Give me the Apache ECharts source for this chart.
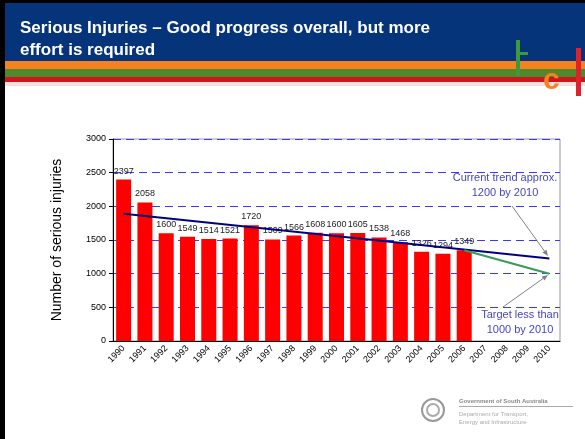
<!DOCTYPE html>
<html>
<head>
<meta charset="utf-8">
<script src="https://cdn.jsdelivr.net/npm/echarts@6/dist/echarts.min.js"></script>
<style>
  html, body { margin: 0; padding: 0; background: #fff; }
  #chart { width: 585px; height: 439px; }
</style>
</head>
<body>
<div id="chart"></div>
<script>
// years on the x axis (bars only up to 2006, projections to 2010)
const years = ['1990', '1991', '1992', '1993', '1994', '1995', '1996', '1997', '1998', '1999',
  '2000', '2001', '2002', '2003', '2004', '2005', '2006', '2007', '2008', '2009', '2010'];
const injuries = [2397, 2058, 1600, 1549, 1514, 1521, 1720, 1509, 1566, 1608,
  1600, 1605, 1538, 1468, 1326, 1294, 1349];
// trend line 1990 -> 2010, target line 2006 -> 2010 (gaps joined)
const trend = [1890, null, null, null, null, null, null, null, null, null,
  null, null, null, null, null, null, null, null, null, null, 1225];
const target = [null, null, null, null, null, null, null, null, null, null,
  null, null, null, null, null, null, 1349, null, null, null, 1000];

const font = '"Liberation Sans", Arial, sans-serif';
const noteColor = '#4646c0';

function arrow(x1, y1, x2, y2) {
  const a = Math.atan2(y2 - y1, x2 - x1);
  const len = 6, w = 2.5;
  const bx = x2 - len * Math.cos(a), by = y2 - len * Math.sin(a);
  const px = -Math.sin(a) * w, py = Math.cos(a) * w;
  return {
    type: 'group',
    children: [
      { type: 'line', shape: { x1, y1, x2: bx, y2: by }, style: { stroke: '#808080', lineWidth: 1 } },
      { type: 'polygon', shape: { points: [[x2, y2], [bx + px, by + py], [bx - px, by - py]] },
        style: { fill: '#808080' } }
    ]
  };
}

const chart = echarts.init(document.getElementById('chart'), null, { renderer: 'canvas' });

chart.setOption({
  animation: false,
  textStyle: { fontFamily: font },
  grid: { left: 113, right: 25, top: 139, bottom: 98, show: true, borderColor: '#999', borderWidth: 1 },
  xAxis: {
    type: 'category',
    data: years,
    axisLine: { lineStyle: { color: '#000', width: 1 } },
    axisTick: { lineStyle: { color: '#000' }, length: 4 },
    axisLabel: { rotate: 45, fontSize: 9, color: '#000', margin: 6, interval: 0 }
  },
  yAxis: {
    type: 'value',
    min: 0, max: 3000, interval: 500,
    name: 'Number of serious injuries',
    nameLocation: 'middle',
    nameGap: 49,
    nameTextStyle: { fontSize: 14, color: '#000' },
    axisLine: { show: true, lineStyle: { color: '#000' } },
    axisTick: { show: true, lineStyle: { color: '#000' }, length: 4 },
    axisLabel: { fontSize: 9, color: '#000', margin: 7, formatter: v => String(v) },
    splitLine: { lineStyle: { color: '#3a3aff', type: [8, 5], width: 1 } }
  },
  series: [
    {
      type: 'bar',
      data: injuries,
      barWidth: 15,
      itemStyle: { color: '#ff0000' },
      label: { show: true, position: 'top', fontSize: 9, color: '#222', distance: 4 }
    },
    {
      type: 'line',
      data: trend,
      connectNulls: true,
      symbol: 'none',
      lineStyle: { color: '#000080', width: 2 },
      z: 3
    },
    {
      type: 'line',
      data: target,
      connectNulls: true,
      symbol: 'none',
      lineStyle: { color: '#3a9a5a', width: 2 },
      z: 3
    }
  ],
  graphic: [
    // slide frame & header
    { type: 'rect', shape: { x: 0, y: 0, width: 585, height: 3 }, style: { fill: '#000' } },
    { type: 'rect', shape: { x: 0, y: 0, width: 5, height: 439 }, style: { fill: '#000' } },
    { type: 'rect', shape: { x: 5, y: 3, width: 580, height: 58 }, style: { fill: '#06347a' } },
    { type: 'rect', shape: { x: 5, y: 61, width: 580, height: 8 }, style: { fill: '#f5821f' } },
    { type: 'rect', shape: { x: 5, y: 69, width: 580, height: 8 }, style: { fill: '#4e8a2c' } },
    { type: 'rect', shape: { x: 5, y: 77, width: 580, height: 5 }, style: { fill: '#d2131e' } },
    { type: 'rect', shape: { x: 5, y: 82, width: 580, height: 4 }, style: { fill: '#f6dede' } },
    {
      type: 'text', x: 20, y: 17,
      style: {
        text: 'Serious Injuries \u2013 Good progress overall, but more\neffort is required',
        fill: '#fff', font: 'bold 17px ' + font, lineHeight: 22, verticalAlign: 'top'
      }
    },
    // tc logo (rough)
    { type: 'rect', shape: { x: 516, y: 40, width: 4, height: 36 }, style: { fill: '#3d9a3a' } },
    { type: 'rect', shape: { x: 520, y: 52, width: 8, height: 3 }, style: { fill: '#3d9a3a' } },
    { type: 'text', x: 543, y: 66, style: { text: 'c', fill: '#f5821f', font: 'bold 30px ' + font, verticalAlign: 'top' } },
    { type: 'rect', shape: { x: 576, y: 48, width: 5, height: 48 }, style: { fill: '#e0202a' } },
    // annotations
    {
      type: 'text', x: 505, y: 170,
      style: {
        text: 'Current trend approx.\n1200 by 2010', fill: noteColor, backgroundColor: '#fff',
        font: '11px ' + font, align: 'center', verticalAlign: 'top', lineHeight: 15
      }
    },
    {
      type: 'text', x: 520, y: 307,
      style: {
        text: 'Target less than\n1000 by 2010', fill: noteColor, backgroundColor: '#fff',
        font: '11px ' + font, align: 'center', verticalAlign: 'top', lineHeight: 15
      }
    },
    arrow(512, 206, 548, 256),
    arrow(503, 307, 548, 275),
    // footer crest
    { type: 'circle', shape: { cx: 433, cy: 410, r: 11 }, style: { fill: '#fff', stroke: '#999', lineWidth: 2 } },
    { type: 'circle', shape: { cx: 433, cy: 410, r: 6 }, style: { fill: '#fff', stroke: '#aaa', lineWidth: 2 } },
    { type: 'text', x: 459, y: 398, style: { text: 'Government of South Australia', fill: '#888', font: 'bold 6px ' + font, verticalAlign: 'top' } },
    { type: 'rect', shape: { x: 459, y: 406, width: 114, height: 1 }, style: { fill: '#aaa' } },
    {
      type: 'text', x: 459, y: 410,
      style: { text: 'Department for Transport,\nEnergy and Infrastructure', fill: '#aaa', font: '6px ' + font, lineHeight: 8, verticalAlign: 'top' }
    }
  ]
});
</script>
</body>
</html>
